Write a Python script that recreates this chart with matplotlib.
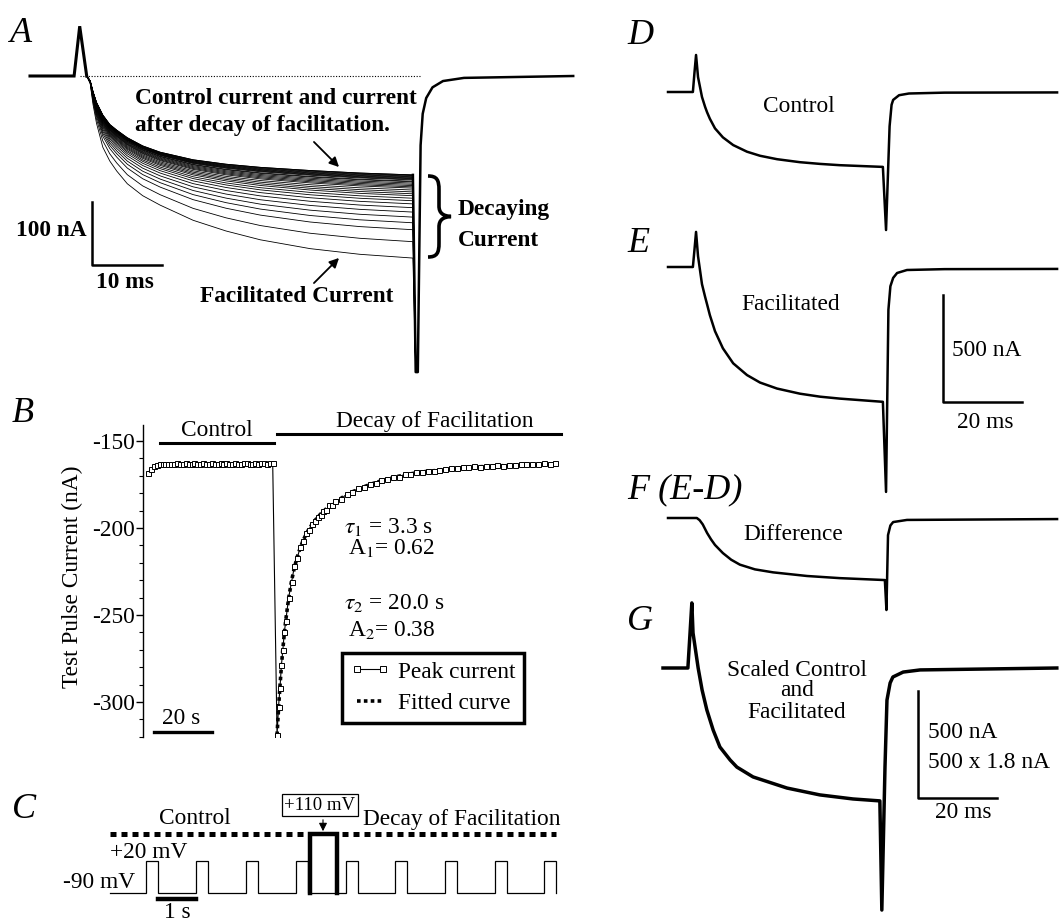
import numpy as np
import matplotlib.pyplot as plt
from matplotlib.path import Path
from matplotlib.patches import PathPatch
from matplotlib.lines import Line2D
from matplotlib.ticker import MultipleLocator

plt.rcParams['font.family'] = ['Liberation Serif', 'DejaVu Serif']
plt.rcParams['mathtext.fontset'] = 'stix'
plt.rcParams['axes.unicode_minus'] = False

# ---------------- A : test pulse currents (ms, nA) ----------------
a_pre_t = [0, 6.3, 7.1, 8.1]
a_pre_i = [0, 0, 79, 0]
a_t = [8.1, 8.6, 9.0, 9.5, 10.4, 11.4, 12.4, 13.9, 16.1, 18.6, 23.3, 28.0, 32.9,
       40.0, 47.1, 54.7]
a_control = [0, -8, -25, -42, -62, -77, -86, -98, -111, -121, -133, -140, -145,
             -150, -154, -157]
a_facil = [0, -12, -45, -75, -113, -135, -151, -171, -190, -205, -229, -246, -260,
           -274, -283, -289]
# current at end of each test pulse, one per trace of the family
a_end_levels = [-157, -157, -158, -159, -160, -161, -162, -163, -164, -165, -167,
                -168, -170, -172, -174, -176, -178, -181, -184, -187, -190, -194,
                -198, -203, -209, -216, -224, -233, -244, -263, -289]
a_tail_t = [54.7, 55.1, 55.4, 55.8, 56.1, 56.6, 57.5, 59.0, 62.0, 77.6]
a_tail_i = [-157, -470, -470, -110, -60, -35, -18, -8, -3, 0]

# ---------------- B : peak current vs time (s, nA) ----------------
b_control_t = list(range(44))
b_control_i = [-168.4, -166.0, -164.6, -163.9, -163.5, -163.3, -163.4, -163.0, -163.2,
               -163.1, -162.8, -163.3, -163.0, -162.9, -163.2, -163.1, -162.7, -163.0,
               -163.2, -162.9, -163.0, -163.1, -162.8, -163.0, -163.2, -162.9, -163.0,
               -162.8, -163.1, -163.0, -162.9, -163.0, -163.1, -162.9, -162.8, -163.0,
               -163.0, -162.9, -163.1, -162.8, -162.9, -163.0, -162.9, -162.8]
b_decay_start = 44.5
b_decay_rel = [0, 0.5, 1, 1.5, 2, 2.5, 3] + list(range(4, 21)) + list(range(22, 97, 2))
b_peak_i = [-319, -303, -292, -279, -270, -260, -253.5,
            -240, -231, -222, -217, -211, -207.5, -203, -201, -197.5, -196, -193.5,
            -192.5, -190, -189.5, -187, -186.5, -184.5,
            -183.5, -180.5, -179.5, -177, -176.5, -174.5, -174, -172.5, -172, -170.5,
            -170.5, -169.2, -169, -168, -168, -167, -167.2, -166.4, -166.3, -165.6,
            -165.8, -165.0, -165.2, -164.6, -164.7, -164.2, -164.4, -164.0, -164.1,
            -163.6, -163.8, -163.4, -163.5, -163.1, -163.3, -162.9, -163.0, -162.6]
b_fit_i = [-319, -304, -291, -279.5, -269.5, -260.8, -253,
           -240.4, -230.4, -222.6, -216.4, -211.4, -207.1, -203.7, -200.6, -198.1,
           -195.8, -193.9, -192.0, -190.5, -188.9, -187.6, -186.2, -185.0,
           -183.0, -180.9, -179.2, -177.7, -176.3, -175.0, -173.9, -172.8, -171.9,
           -171.0, -170.2, -169.6, -168.9, -168.3, -167.8, -167.4, -167.1, -166.6,
           -166.3, -166.0, -165.7, -165.4, -165.2, -165.0, -164.8, -164.6, -164.5,
           -164.3, -164.2, -164.1, -164.0, -163.9, -163.8, -163.7, -163.7, -163.6,
           -163.5, -163.5]

# ---------------- C : voltage protocol (s, mV) ----------------
c_pulse_on = [0.95, 2.26, 3.58, 4.89, 6.21, 7.50, 8.82, 10.13, 11.42]
c_pulse_width = 0.32
c_cond_on, c_cond_off = 5.26, 5.97
c_rest, c_test, c_cond = -90, 20, 110

# ---------------- D-G : single currents (ms, nA) ----------------
d_t = [0, 6.3, 6.7, 7.1, 7.6, 8.6, 9.4, 9.9, 10.6, 11.9, 13.9, 16.5, 20.0, 23.3,
       27.6, 33.4, 38.5, 43.5, 54.4, 55.2, 56.1, 56.6, 57.0, 58.5, 61.0, 70.0, 98.5]
d_i = [0, 0, 90, 173, 70, -23, -70, -95, -125, -170, -212, -248, -279, -298,
       -314, -328, -336, -342, -350, -645, -160, -60, -37, -15, -7, -3, -2]
e_t = [0, 6.3, 6.7, 7.1, 7.6, 8.6, 9.4, 9.9, 10.6, 11.9, 13.9, 16.5, 20.0, 23.3,
       27.6, 33.4, 38.5, 43.5, 54.4, 55.2, 55.8, 56.3, 57.0, 58.0, 60.5, 70.0, 98.5]
e_i = [0, 0, 80, 164, 51, -80, -140, -175, -225, -300, -380, -450, -505, -540,
       -568, -592, -606, -615, -630, -1051, -200, -90, -51, -28, -14, -10, -9]
f_t = [0, 7.3, 8.0, 8.8, 9.9, 10.9, 11.9, 13.9, 16.0, 18.2, 22.0, 26.6, 35.2, 43.5,
       54.9, 55.3, 55.7, 56.3, 57.0, 60.5, 98.5]
f_i = [0, 0, -10, -30, -70, -100, -126, -164, -195, -218, -240, -254, -271, -281,
       -290, -430, -80, -35, -19, -9, -5]
g_t = [0, 6.3, 6.8, 7.3, 7.6, 8.9, 9.9, 11.1, 12.7, 14.4, 17.0, 18.7, 22.8, 31.4,
       39.7, 48.1, 54.9, 55.4, 56.2, 56.7, 57.5, 58.2, 60.8, 65.1, 99.7]
g_i = [0, 0, 150, 304, 164, 0, -103, -196, -290, -369, -430, -463, -509, -561,
       -593, -612, -621, -1131, -463, -150, -70, -42, -19, -9, 0]

W, H = 1059, 924
fig = plt.figure(figsize=(W / 100, H / 100), dpi=100)
fig.patch.set_facecolor('white')
FS = 16.8
LAB = 26


def panel_axes(box, origin, scale, off=True):
    # box = (left, top, right, bottom) px, origin = px of data (0, 0), scale = px per unit
    l, t, r, b = box
    ox, oy = origin
    sx, sy = scale
    ax = fig.add_axes([l / W, 1 - b / H, (r - l) / W, (b - t) / H])
    ax.set_xlim((l - ox) / sx, (r - ox) / sx)
    ax.set_ylim((oy - b) / sy, (oy - t) / sy)
    if off:
        ax.set_axis_off()
    return ax


# ---- Panel A ----
axA = panel_axes((0, 0, 600, 395), (30, 76), (7.0, 0.63))
ctrl = np.array(a_control)
fac = np.array(a_facil)
for lev in a_end_levels:
    k = (lev - ctrl[-1]) / (fac[-1] - ctrl[-1])
    trace = ctrl + k * (fac - ctrl)
    axA.plot(a_t + [a_tail_t[1]], list(trace) + [a_tail_i[1]], color='k', lw=0.6)
axA.plot(a_pre_t, a_pre_i, color='k', lw=2.2, solid_joinstyle='miter')
axA.plot(a_tail_t, a_tail_i, color='k', lw=1.8)
axA.plot([7.1, 55.8], [0, 0], color='k', lw=0.8, ls=(0, (1, 1.5)))
axA.plot([8.8, 8.8, 18.8], [-200, -300, -300], color='k', lw=1.8)

# ---- Panel B ----
axB = panel_axes((143, 425, 575, 737), (148, 180), (2.9, 1.74), off=False)
for s in ['top', 'right', 'bottom']:
    axB.spines[s].set_visible(False)
axB.spines['left'].set_linewidth(1.0)
axB.xaxis.set_visible(False)
axB.set_yticks([-300, -250, -200, -150])
axB.yaxis.set_minor_locator(MultipleLocator(10))
axB.tick_params(axis='y', which='major', direction='out', length=5, width=1,
                labelsize=FS, pad=1)
axB.tick_params(axis='y', which='minor', direction='out', length=3, width=0.8)
axB.patch.set_visible(False)
decay_t = [b_decay_start + t for t in b_decay_rel]
axB.plot(decay_t, b_fit_i, color='k', lw=2.6, ls=(0, (1, 0.9)), zorder=2)
axB.plot(b_control_t + decay_t, b_control_i + b_peak_i, color='k', lw=0.8,
         marker='s', ms=3.6, mfc='white', mec='k', mew=0.7, zorder=3)
axB.plot([4.1, 43.4], [-151.1, -151.1], color='k', lw=2.2, clip_on=False)
axB.plot([44.5, 142.4], [-146, -146], color='k', lw=2.2, clip_on=False)
axB.plot([2.1, 22.1], [-317.2, -317.2], color='k', lw=2.4, clip_on=False)
handles = [Line2D([], [], color='k', lw=0.8, marker='s', ms=4, mfc='white', mew=0.7),
           Line2D([], [], color='k', lw=2.6, ls=(0, (1, 0.9)))]
leg = axB.legend(handles, ['Peak current', 'Fitted curve'], loc='upper left',
                 bbox_to_anchor=(342 / W, 1 - 653 / H), bbox_transform=fig.transFigure,
                 borderaxespad=0, fancybox=False, edgecolor='k', framealpha=1,
                 fontsize=FS, numpoints=2, handlelength=1.7, handletextpad=0.35,
                 labelspacing=0.45, borderpad=0.35)
leg.get_frame().set_linewidth(2.5)

# ---- Panel C ----
axC = panel_axes((100, 825, 570, 910), (110, 866.45), (38, 0.295))
wt, wv = [0], [c_rest]
for on in c_pulse_on:
    wt += [on, on, on + c_pulse_width, on + c_pulse_width]
    wv += [c_rest, c_test, c_test, c_rest]
axC.plot(wt, wv, color='k', lw=0.9, solid_joinstyle='miter')
axC.plot([c_cond_on, c_cond_on, c_cond_off, c_cond_off],
         [c_rest, c_cond, c_cond, c_rest], color='k', lw=3.2, solid_joinstyle='miter')
dots = dict(color='k', lw=3.6, ls=(0, (1.2, 1.0)))
axC.plot([0, 5.1], [c_cond, c_cond], **dots)
axC.plot([6.1, 11.74], [c_cond, c_cond], **dots)
axC.plot([1.26, 2.26], [-110.3, -110.3], color='k', lw=3.2)

# ---- Panels D, E, F, G ----
sc = (3.95, 0.214)
axD = panel_axes((655, 40, 1059, 235), (668, 92), sc)
axD.plot(d_t, d_i, color='k', lw=1.8)
axE = panel_axes((655, 225, 1059, 500), (668, 267), sc)
axE.plot(e_t, e_i, color='k', lw=1.8)
axE.plot([69.6, 69.6, 89.6], [-131, -631, -631], color='k', lw=1.8)
axF = panel_axes((655, 505, 1059, 615), (668, 518), sc)
axF.plot(f_t, f_i, color='k', lw=1.8)
axG = panel_axes((650, 595, 1059, 924), (663, 668), sc)
axG.plot(g_t, g_i, color='k', lw=2.5)
axG.plot([64.6, 64.6, 84.6], [-107, -607, -607], color='k', lw=1.8)

# ---- text layer (pixel coordinates) ----
ax0 = fig.add_axes([0, 0, 1, 1])
ax0.set_xlim(0, W)
ax0.set_ylim(H, 0)
ax0.set_axis_off()
ax0.patch.set_visible(False)


def txt(x, y, s, size=FS, ha='left', **kw):
    ax0.text(x, y, s, fontsize=size, ha=ha, va='center', **kw)


for lab, x, y in [('A', 10, 34), ('B', 12, 414), ('C', 12, 810), ('D', 627, 35),
                  ('E', 627, 243), ('F (E-D)', 627, 490), ('G', 627, 622)]:
    txt(x, y, lab, size=LAB, style='italic')

txt(135, 98, 'Control current and current', weight='bold')
txt(135, 125, 'after decay of facilitation.', weight='bold')
txt(297, 297, 'Facilitated Current', ha='center', weight='bold')
txt(87, 230, '100 nA', ha='right', weight='bold')
txt(125, 283, '10 ms', ha='center', weight='bold')
txt(458, 210, 'Decaying', weight='bold')
txt(458, 240, 'Current', weight='bold')
arr = dict(arrowstyle='-|>', color='k', lw=1.3, mutation_scale=14)
ax0.annotate('', xy=(341, 169), xytext=(312, 140), arrowprops=arr)
ax0.annotate('', xy=(341, 256), xytext=(312, 285), arrowprops=arr)
brace = Path([(428, 176), (437, 176), (439, 180), (439, 190), (439, 206),
              (439, 213), (443, 216), (451, 216.5), (443, 217), (439, 220), (439, 227),
              (439, 243), (439, 253), (437, 257), (428, 257)],
             [Path.MOVETO, Path.CURVE4, Path.CURVE4, Path.CURVE4, Path.LINETO,
              Path.CURVE4, Path.CURVE4, Path.CURVE4, Path.CURVE4, Path.CURVE4, Path.CURVE4,
              Path.LINETO, Path.CURVE4, Path.CURVE4, Path.CURVE4])
ax0.add_patch(PathPatch(brace, fill=False, lw=2.6, color='k'))

txt(217, 430, 'Control', ha='center')
txt(435, 422, 'Decay of Facilitation', ha='center')
txt(72, 577, 'Test Pulse Current (nA)', ha='center', rotation=90)
txt(344, 527, r'$\tau_1$ = 3.3 s')
txt(348, 548, r'A$_1$= 0.62')
txt(344, 603, r'$\tau_2$ = 20.0 s')
txt(348, 630, r'A$_2$= 0.38')
txt(181, 718, '20 s', ha='center')

txt(195, 819, 'Control', ha='center')
txt(363, 819, 'Decay of Facilitation')
txt(320, 805, '+110 mV', size=13.5, ha='center',
    bbox=dict(boxstyle='square,pad=0.12', fc='white', ec='k', lw=0.9))
ax0.annotate('', xy=(323, 834), xytext=(323, 817),
             arrowprops=dict(arrowstyle='-|>', color='k', lw=0.8, mutation_scale=12))
txt(110, 852, '+20 mV')
txt(63, 883, '-90 mV')
txt(177, 913, '1 s', ha='center')

txt(799, 107, 'Control', ha='center')
txt(791, 305, 'Facilitated', ha='center')
txt(952, 350, '500 nA')
txt(985, 423, '20 ms', ha='center')
txt(793, 535, 'Difference', ha='center')
txt(797, 670, 'Scaled Control', ha='center')
txt(797, 690, 'and', ha='center')
txt(797, 713, 'Facilitated', ha='center')
txt(928, 733, '500 nA')
txt(928, 763, '500 x 1.8 nA')
txt(963, 813, '20 ms', ha='center')

fig.savefig('out.png', dpi=100, facecolor='white')
